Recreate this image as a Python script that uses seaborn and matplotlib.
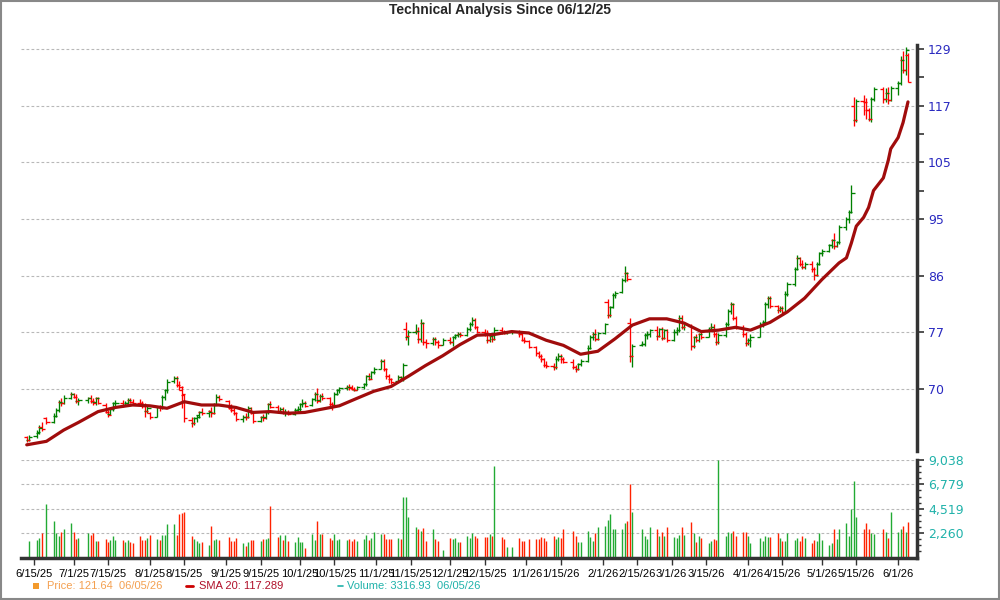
import pandas as pd
import numpy as np
import matplotlib
matplotlib.use('Agg')
import matplotlib.pyplot as plt
import matplotlib.dates as mdates
from matplotlib.lines import Line2D
from matplotlib.patches import Rectangle
from matplotlib.ticker import FixedLocator, NullFormatter
import seaborn as sns

# trading days 06/12/25 .. 06/05/26
holidays = ['2025-06-19', '2025-07-04', '2025-09-01', '2025-11-27', '2025-12-25',
            '2026-01-01', '2026-01-19', '2026-02-16', '2026-04-03', '2026-05-25']
dates = pd.bdate_range('2025-06-12', '2026-06-05').drop(pd.to_datetime(holidays))

opens = [
    64.2, 63.9,
    64.3, 64.7, 65.4, 66.4,
    66.0, 66.7, 67.4, 68.4, 68.3,
    68.9, 69.3, 69.0, 68.5,
    68.6, 68.8, 68.5, 68.4, 68.8,
    68.0, 67.2, 66.9, 67.5, 68.2,
    68.3, 68.0, 68.3, 68.6, 68.4,
    68.3, 68.2, 67.9, 67.3, 67.0,
    66.6, 67.7, 67.7, 69.0, 69.8,
    71.0, 71.4, 70.5, 69.8, 69.2,
    66.2, 65.8, 66.4, 66.8, 67.2,
    67.0, 67.3, 67.0, 68.1, 69.0,
    68.5, 67.6, 67.4, 67.0,
    66.3, 66.6, 66.5, 67.6, 67.0,
    66.1, 66.5, 66.5, 67.1, 68.1,
    67.8, 67.3, 67.5, 67.1, 67.2,
    66.9, 67.4, 67.5, 68.1, 68.3,
    68.0, 68.7, 69.4, 68.6, 69.1,
    68.9, 68.1, 67.9, 69.4, 69.8,
    70.1, 70.3, 70.2, 70.0, 69.9,
    70.2, 70.6, 71.6, 71.3, 72.1,
    72.6, 73.6, 72.5, 71.6, 71.2,
    71.0, 71.5, 71.2, 77.9, 76.8,
    77.5, 77.7, 76.6, 78.8, 76.2,
    76.0, 76.6, 76.1, 75.8,
    76.5, 76.2, 76.8, 77.1, 77.3,
    77.1, 77.9, 78.7, 79.3, 78.2,
    77.6, 77.4, 76.4, 77.0, 76.6,
    77.8, 77.6, 77.4, 77.5,
    77.6, 77.2, 76.5, 76.3,
    75.5, 74.6, 74.3, 73.8, 73.1,
    73.0, 72.8, 73.9, 74.2, 73.9,
    73.5, 72.8, 72.5, 73.2,
    73.6, 75.4, 76.9, 77.3, 76.6,
    77.4, 81.9, 80.0, 81.1, 82.9,
    83.3, 85.2, 86.2, 78.8, 74.3,
    75.8, 75.9, 77.1, 77.3,
    77.8, 77.0, 77.9, 76.7, 77.8,
    76.4, 77.6, 77.8, 79.5, 78.2,
    78.4, 75.6, 76.8, 76.4, 77.2,
    76.9, 77.9, 78.3, 77.2, 76.2,
    77.1, 78.6, 80.5, 81.5, 79.5,
    78.2, 77.3, 76.0, 76.4,
    76.9, 78.6, 78.9, 81.5, 82.5,
    81.2, 80.6, 81.0, 80.4, 83.0,
    84.5, 86.9, 88.6, 87.6, 87.2,
    87.7, 86.8, 85.9, 87.6, 89.3,
    89.7, 90.6, 91.5, 90.5, 91.2,
    93.6, 95.0, 96.2, 116.4, 113.6,
    117.5, 117.2, 115.5, 113.8, 117.8,
    120.0, 117.8, 119.2, 117.6,
    120.3, 121.4, 126.4, 124.3, 127.7,
]

highs = [
    64.3, 64.4,
    65.0, 65.6, 65.9, 66.6,
    67.0, 67.6, 68.6, 68.9, 69.2,
    69.6, 69.5, 69.3, 68.9,
    69.0, 69.2, 68.9, 69.0, 69.0,
    68.2, 67.4, 67.7, 68.4, 68.6,
    68.6, 68.5, 68.8, 68.9, 68.7,
    68.7, 68.5, 68.2, 67.9, 67.1,
    67.9, 68.0, 69.2, 70.0, 71.2,
    71.7, 71.6, 71.0, 70.4, 69.4,
    66.6, 66.6, 66.8, 67.3, 67.6,
    67.4, 67.8, 68.2, 69.3, 69.2,
    68.6, 68.1, 67.6, 67.2,
    66.8, 67.0, 67.9, 67.8, 67.1,
    66.7, 66.9, 67.3, 68.3, 68.5,
    68.0, 67.8, 67.7, 67.5, 67.4,
    67.6, 67.9, 68.3, 68.7, 68.5,
    68.9, 69.6, 70.1, 69.3, 69.5,
    69.0, 68.4, 69.6, 70.0, 70.3,
    70.5, 70.6, 70.5, 70.3, 70.4,
    70.8, 71.8, 72.0, 72.3, 72.8,
    73.9, 73.8, 72.7, 71.9, 71.4,
    71.8, 71.7, 73.3, 78.9, 77.8,
    78.6, 78.2, 79.4, 79.0, 76.6,
    76.9, 76.8, 76.4, 76.7,
    76.8, 77.0, 77.3, 77.5, 77.5,
    78.2, 79.0, 79.6, 79.5, 78.4,
    77.9, 77.8, 77.2, 77.4, 78.2,
    78.2, 77.8, 77.7, 77.8,
    77.8, 77.4, 76.8, 76.4,
    75.6, 75.0, 74.5, 74.0, 73.6,
    73.3, 74.2, 74.6, 74.5, 74.1,
    73.8, 73.1, 73.4, 73.8,
    75.7, 77.1, 77.6, 77.9, 77.6,
    78.8, 82.3, 81.3, 83.2, 83.5,
    85.5, 87.3, 86.4, 79.5, 75.9,
    76.3, 77.4, 77.7, 78.0,
    78.4, 78.1, 78.3, 78.0, 78.0,
    77.9, 78.3, 79.9, 80.0, 78.9,
    78.6, 77.0, 77.3, 77.4, 77.6,
    78.2, 78.8, 78.6, 77.5, 77.4,
    78.9, 80.8, 81.9, 81.7, 79.8,
    78.5, 77.6, 76.7, 77.2,
    78.9, 79.2, 81.8, 82.8, 82.7,
    81.4, 81.3, 81.2, 83.4, 84.8,
    87.2, 89.0, 88.8, 88.2, 88.0,
    88.1, 87.2, 87.9, 89.6, 90.0,
    90.8, 91.7, 92.6, 91.4, 94.0,
    95.4, 96.5, 101.0, 118.4, 118.0,
    118.8, 118.2, 116.0, 118.3, 120.4,
    120.5, 120.3, 120.4, 120.7,
    121.8, 127.4, 128.6, 129.5, 128.0,
]

lows = [
    63.6, 63.7,
    64.1, 64.5, 64.9, 65.7,
    65.8, 66.5, 67.2, 67.9, 68.1,
    68.7, 68.8, 68.3, 68.0,
    68.2, 68.3, 68.0, 68.0, 68.1,
    67.0, 66.6, 66.8, 67.3, 67.8,
    67.8, 67.9, 68.1, 68.2, 68.1,
    67.9, 67.6, 66.6, 67.0, 66.3,
    66.5, 67.3, 67.5, 68.6, 69.5,
    70.8, 70.2, 69.8, 67.6, 66.0,
    65.4, 65.6, 66.0, 66.4, 66.8,
    66.6, 66.6, 66.9, 68.0, 68.5,
    67.5, 67.2, 66.8, 66.1,
    65.9, 66.2, 66.4, 66.9, 65.8,
    65.9, 66.1, 66.3, 66.9, 67.6,
    67.0, 67.0, 66.9, 66.7, 66.8,
    66.8, 67.2, 67.3, 67.7, 67.8,
    67.9, 68.5, 68.2, 68.4, 68.6,
    67.8, 67.4, 67.7, 69.2, 69.5,
    69.8, 69.9, 69.8, 69.7, 69.8,
    70.0, 70.4, 71.1, 71.2, 71.9,
    72.5, 72.3, 71.3, 70.8, 70.6,
    70.9, 71.0, 71.0, 76.4, 75.8,
    77.2, 76.0, 76.2, 75.7, 75.4,
    75.7, 75.8, 75.4, 75.7,
    75.9, 75.6, 76.6, 76.9, 76.9,
    77.0, 77.7, 78.4, 78.0, 77.4,
    77.0, 76.0, 76.1, 76.2, 76.4,
    77.3, 77.2, 77.3, 77.3,
    76.9, 76.3, 76.0, 75.3,
    74.3, 74.0, 73.5, 72.8, 72.7,
    72.4, 72.6, 73.6, 73.4, 73.3,
    72.5, 72.2, 72.4, 72.9,
    73.5, 75.2, 76.5, 76.3, 76.5,
    77.3, 79.5, 79.7, 80.9, 82.4,
    83.1, 84.9, 85.0, 73.5, 72.8,
    75.6, 75.6, 76.6, 76.9,
    76.4, 76.8, 76.4, 76.6, 76.1,
    76.3, 77.1, 77.6, 78.0, 77.8,
    75.1, 75.3, 76.1, 76.2, 76.6,
    76.8, 77.7, 76.9, 75.8, 75.9,
    76.9, 78.4, 80.1, 79.2, 77.9,
    76.9, 75.6, 75.8, 75.5,
    76.8, 78.3, 78.7, 81.0, 80.9,
    80.3, 80.4, 79.9, 80.3, 82.8,
    84.3, 86.7, 87.3, 86.9, 86.9,
    86.3, 85.2, 85.7, 87.4, 88.9,
    89.5, 90.2, 90.0, 90.3, 90.9,
    93.2, 94.4, 96.0, 112.3, 113.2,
    114.6, 113.8, 113.3, 113.2, 117.5,
    117.0, 117.3, 116.8, 117.5,
    118.7, 121.0, 123.5, 123.0, 121.5,
]

closes = [
    63.8, 64.2,
    64.8, 65.3, 65.1, 65.9,
    66.7, 67.4, 68.4, 68.2, 68.9,
    69.3, 69.0, 68.5, 68.6,
    68.8, 68.5, 68.3, 68.8, 68.2,
    67.2, 66.8, 67.5, 68.2, 68.3,
    68.0, 68.3, 68.6, 68.4, 68.3,
    68.2, 67.9, 67.3, 67.6, 66.5,
    67.7, 67.6, 69.0, 69.8, 70.9,
    71.4, 70.5, 70.3, 69.4, 66.4,
    65.8, 66.4, 66.6, 67.2, 67.0,
    67.1, 67.0, 68.0, 69.0, 68.7,
    67.6, 67.4, 67.0, 66.3,
    66.6, 66.5, 67.6, 67.1, 66.1,
    66.5, 66.4, 67.1, 68.1, 67.8,
    67.3, 67.5, 67.1, 67.2, 66.9,
    67.4, 67.5, 68.1, 68.3, 67.9,
    68.7, 69.3, 68.5, 69.1, 68.9,
    68.1, 68.0, 69.4, 69.8, 70.1,
    70.3, 70.1, 70.0, 69.9, 70.2,
    70.6, 71.6, 71.3, 72.1, 72.6,
    73.6, 72.5, 71.6, 71.2, 70.9,
    71.5, 71.2, 73.1, 77.0, 77.5,
    77.7, 76.6, 78.8, 76.2, 76.0,
    76.6, 76.1, 75.8, 76.5,
    76.2, 76.8, 77.1, 77.3, 77.1,
    77.9, 78.7, 79.3, 78.2, 77.6,
    77.4, 76.4, 77.0, 76.6, 77.8,
    77.6, 77.4, 77.5, 77.6,
    77.2, 76.5, 76.3, 75.5,
    74.6, 74.3, 73.8, 73.1, 73.0,
    72.8, 73.9, 74.2, 73.9, 73.5,
    72.8, 72.5, 73.2, 73.6,
    75.4, 76.9, 77.3, 76.6, 77.4,
    78.6, 80.0, 81.1, 82.9, 83.2,
    85.2, 86.2, 85.3, 74.3, 75.6,
    75.9, 77.1, 77.3, 77.8,
    77.0, 77.9, 76.7, 77.8, 76.4,
    77.6, 77.8, 79.5, 78.2, 78.6,
    75.6, 76.8, 76.4, 77.2, 76.9,
    77.9, 78.3, 77.2, 76.2, 77.1,
    78.6, 80.5, 81.5, 79.5, 78.2,
    77.3, 76.0, 76.4, 76.9,
    78.6, 78.9, 81.5, 82.5, 81.2,
    80.6, 81.0, 80.4, 83.0, 84.5,
    86.9, 88.6, 87.6, 87.2, 87.7,
    86.8, 85.9, 87.6, 89.3, 89.7,
    90.6, 91.5, 90.5, 91.2, 93.6,
    95.0, 96.2, 99.5, 113.6, 117.5,
    117.2, 115.5, 113.8, 117.8, 120.0,
    117.8, 119.2, 117.6, 120.3,
    121.4, 126.4, 124.3, 128.8, 121.64,
]

volumes = [
    0, 1500,
    1650, 1800, 2300, 5000,
    3400, 2300, 2000, 2400, 2600,
    3200, 2400, 1700, 1800,
    2300, 2100, 2300, 1500, 1500,
    1700, 1400, 1600, 2000, 1600,
    1600, 1400, 1600, 1400, 1300,
    2000, 1600, 1600, 1800, 2100,
    1700, 1600, 2100, 2100, 3100,
    3100, 2100, 4000, 4100, 4200,
    2000, 1700, 1500, 1300, 1400,
    1200, 2900, 1600, 1700, 1600,
    1900, 1500, 1500, 1800,
    1300, 1100, 1400, 1600, 1600,
    1500, 1700, 1700, 1800, 4800,
    1900, 2100, 1600, 2100, 1500,
    1400, 1900, 1400, 1400, 900,
    2200, 1600, 3400, 2200, 2200,
    1800, 1600, 2200, 1600, 1700,
    1600, 1700, 1500, 1700, 1500,
    1700, 2100, 1600, 1800, 2400,
    2200, 2200, 1700, 1700, 1700,
    1800, 1700, 5600, 5600, 3800,
    2800, 2600, 2500, 2700, 1500,
    2600, 1700, 1500, 700,
    1800, 1700, 1800, 1400, 1400,
    2000, 1800, 2300, 2000, 1800,
    1900, 1900, 2200, 2000, 8500,
    1900, 1700, 1000, 1000,
    1800, 1500, 1500, 1700,
    1700, 1700, 1900, 1800, 1500,
    2000, 1700, 1900, 1800, 2600,
    2500, 2000, 1400, 1400,
    2500, 1900, 1500, 2300, 2800,
    2900, 3500, 4000, 2600, 2600,
    2600, 3200, 3400, 6800, 4200,
    2600, 2000, 1700, 2800,
    2600, 2000, 2400, 2000, 2800,
    1900, 1800, 2100, 2800, 2100,
    3300, 2300, 1400, 2000, 1800,
    1300, 1500, 1700, 1600, 9038,
    2000, 2400, 2300, 2500, 2000,
    2400, 2400, 2000, 1300,
    1800, 1500, 2000, 1900, 1900,
    2300, 1800, 1500, 1500, 2300,
    1600, 1800, 1500, 2000, 1800,
    1300, 1600, 1500, 2300, 1600,
    1200, 1300, 2600, 1700, 2600,
    3200, 2000, 4500, 7100, 3800,
    2600, 3200, 2600, 2300, 2200,
    2600, 2400, 1800, 4200,
    2400, 2600, 2900, 2400, 3316.93,
]

# SMA 20
sma_dates = ['2025-06-12', '2025-06-20', '2025-06-27', '2025-07-03', '2025-07-11', '2025-07-18',
             '2025-07-25', '2025-08-01', '2025-08-08', '2025-08-15', '2025-08-22', '2025-08-29',
             '2025-09-05', '2025-09-12', '2025-09-19', '2025-09-26', '2025-10-03', '2025-10-10',
             '2025-10-17', '2025-10-24', '2025-10-31', '2025-11-07', '2025-11-14', '2025-11-21',
             '2025-11-28', '2025-12-05', '2025-12-12', '2025-12-19', '2025-12-26', '2026-01-02',
             '2026-01-09', '2026-01-16', '2026-01-23', '2026-01-30', '2026-02-06', '2026-02-13',
             '2026-02-20', '2026-02-27', '2026-03-06', '2026-03-13', '2026-03-20', '2026-03-27',
             '2026-04-02', '2026-04-10', '2026-04-17', '2026-04-24', '2026-05-01', '2026-05-08',
             '2026-05-11', '2026-05-13', '2026-05-15', '2026-05-18', '2026-05-20', '2026-05-22',
             '2026-05-26', '2026-05-28', '2026-05-29', '2026-06-01', '2026-06-03', '2026-06-05']
sma_values = [63.3, 63.7, 65.0, 65.9, 67.2, 67.7,
              68.0, 67.9, 67.6, 68.4, 68.0, 68.0,
              67.7, 67.1, 67.2, 67.0, 67.1, 67.5,
              67.9, 68.8, 69.7, 70.3, 71.6, 73.0,
              74.3, 75.8, 77.1, 77.2, 77.6, 77.4,
              76.4, 75.7, 74.5, 74.9, 76.6, 78.5,
              79.4, 79.4, 78.8, 77.6, 77.8, 78.2,
              77.8, 78.9, 80.4, 82.4, 85.2, 87.8,
              88.6, 91.0, 93.8, 95.3, 97.0, 100.0,
              102.3, 105.6, 107.8, 110.0, 113.0, 117.289]

price_tick_labels = ['70', '77', '86', '95', '105', '117', '129']
volume_tick_labels = ['2,260', '4,519', '6,779', '9,038']
date_tick_labels = ['6/15/25', '7/1/25', '7/15/25', '8/1/25', '8/15/25', '9/1/25', '9/15/25',
                    '10/1/25', '10/15/25', '11/1/25', '11/15/25', '12/1/25', '12/15/25',
                    '1/1/26', '1/15/26', '2/1/26', '2/15/26', '3/1/26', '3/15/26', '4/1/26',
                    '4/15/26', '5/1/26', '5/15/26', '6/1/26']

df = pd.DataFrame({'date': dates, 'open': opens, 'high': highs, 'low': lows,
                   'close': closes, 'volume': volumes})
sma = pd.DataFrame({'date': pd.to_datetime(sma_dates), 'sma': sma_values})

sns.set_style('white')
plt.rcParams['font.family'] = ['Liberation Sans', 'DejaVu Sans']

GREEN, RED = '#008000', '#ff0000'
fig = plt.figure(figsize=(10, 6), dpi=100)
ax = fig.add_axes([0.021, 1 - 451 / 600, 0.896, (451 - 45) / 600])
axv = fig.add_axes([0.021, 1 - 557.5 / 600, 0.896, (557.5 - 460) / 600], sharex=ax)

# OHLC bars
xs = mdates.date2num(df['date'].dt.to_pydatetime())
up = df['close'] >= df['open']
cols = np.where(up, GREEN, RED)
half = 1.3
ax.vlines(xs, df['low'], df['high'], colors=cols, lw=0.95)
ax.hlines(df['open'], xs - half, xs, colors=cols, lw=0.95)
ax.hlines(df['close'], xs, xs + half, colors=cols, lw=0.95)

sns.lineplot(data=sma, x='date', y='sma', ax=ax, color='#a00c0c', lw=2.3, zorder=5)

ax.set_yscale('log')
ax.set_ylim(62.6, 129.93)
pticks = [70 * (129 / 70) ** (k / 6) for k in range(7)]
ax.yaxis.set_major_locator(FixedLocator(pticks))
ax.set_yticklabels(price_tick_labels)
ax.yaxis.set_minor_locator(FixedLocator([np.sqrt(pticks[k] * pticks[k + 1]) for k in (3, 4, 5)]))
ax.yaxis.set_minor_formatter(NullFormatter())
ax.yaxis.tick_right()
ax.tick_params(axis='y', which='major', length=5, width=1.2, color='#333333',
               labelcolor='#2a2ac0', labelsize=9, pad=3)
ax.tick_params(axis='y', which='minor', length=5, width=1.2, color='#333333')
for lab in ax.get_yticklabels():
    lab.set_family('DejaVu Sans')
ax.grid(axis='y', which='major', color='#b8b8b8', lw=0.8, ls=(0, (2.5, 2)))
ax.tick_params(axis='x', which='both', bottom=False, labelbottom=False)
for s in ['left', 'top', 'bottom']:
    ax.spines[s].set_visible(False)
ax.spines['right'].set_linewidth(2.5)
ax.spines['right'].set_color('#333333')
ax.set_xlabel('')
ax.set_ylabel('')

# volume
prev = df['close'].shift(1).fillna(df['open'])
vcols = np.where(df['close'] >= prev, '#22aa33', '#ff2200')
axv.vlines(xs, 0, df['volume'], colors=vcols, lw=1.0)
vmax = max(volumes)
vticks = [vmax * k / 4 for k in range(1, 5)]
axv.set_ylim(0, vmax)
axv.yaxis.set_major_locator(FixedLocator(vticks))
axv.set_yticklabels(volume_tick_labels)
axv.yaxis.set_minor_locator(FixedLocator([vmax * k / 16 for k in range(16) if k % 4]))
axv.yaxis.set_minor_formatter(NullFormatter())
axv.yaxis.tick_right()
axv.tick_params(axis='y', which='major', length=5, width=1.2, color='#333333',
                labelcolor='#20b2aa', labelsize=9, pad=3)
axv.tick_params(axis='y', which='minor', length=3, width=1.0, color='#333333')
for lab in axv.get_yticklabels():
    lab.set_family('DejaVu Sans')
axv.grid(axis='y', which='major', color='#b8b8b8', lw=0.8, ls=(0, (2.5, 2)))
for s in ['left', 'top']:
    axv.spines[s].set_visible(False)
for s in ['right', 'bottom']:
    axv.spines[s].set_linewidth(2.5)
    axv.spines[s].set_color('#333333')

tick_dates = pd.to_datetime(date_tick_labels, format='%m/%d/%y')
axv.set_xticks(mdates.date2num(tick_dates.to_pydatetime()))
axv.set_xticklabels(date_tick_labels)
axv.tick_params(axis='x', which='major', bottom=True, length=5, width=1.0, color='#333333',
                labelsize=8, labelcolor='black', pad=3)
axv.set_xlim(mdates.date2num(pd.Timestamp('2025-06-09 16:00')),
             mdates.date2num(pd.Timestamp('2026-06-08 16:00')))

# title, legend row, frame
fig.text(0.5, 0.983, 'Technical Analysis Since 06/12/25', ha='center', va='center',
         fontsize=10, fontweight='bold')
ly = 1 - 586 / 600
fig.add_artist(Rectangle((0.033, ly - 0.005), 0.006, 0.01, transform=fig.transFigure,
                         color='#f39a2c', lw=0))
fig.text(0.047, ly, 'Price: 121.64  06/05/26', color='#f4a050', fontsize=8, va='center')
fig.add_artist(Line2D([0.186, 0.193], [ly, ly], transform=fig.transFigure, color='#cc0000', lw=2))
fig.text(0.199, ly, 'SMA 20: 117.289', color='#b0102a', fontsize=8, va='center')
fig.add_artist(Line2D([0.338, 0.343], [ly, ly], transform=fig.transFigure, color='#20b2aa', lw=1.2))
fig.text(0.347, ly, 'Volume: 3316.93  06/05/26', color='#20b2aa', fontsize=8, va='center')
fig.add_artist(Rectangle((0.001, 0.0015), 0.998, 0.997, transform=fig.transFigure,
                         fill=False, edgecolor='#888888', lw=1.5))

fig.savefig('out.png', dpi=100)
